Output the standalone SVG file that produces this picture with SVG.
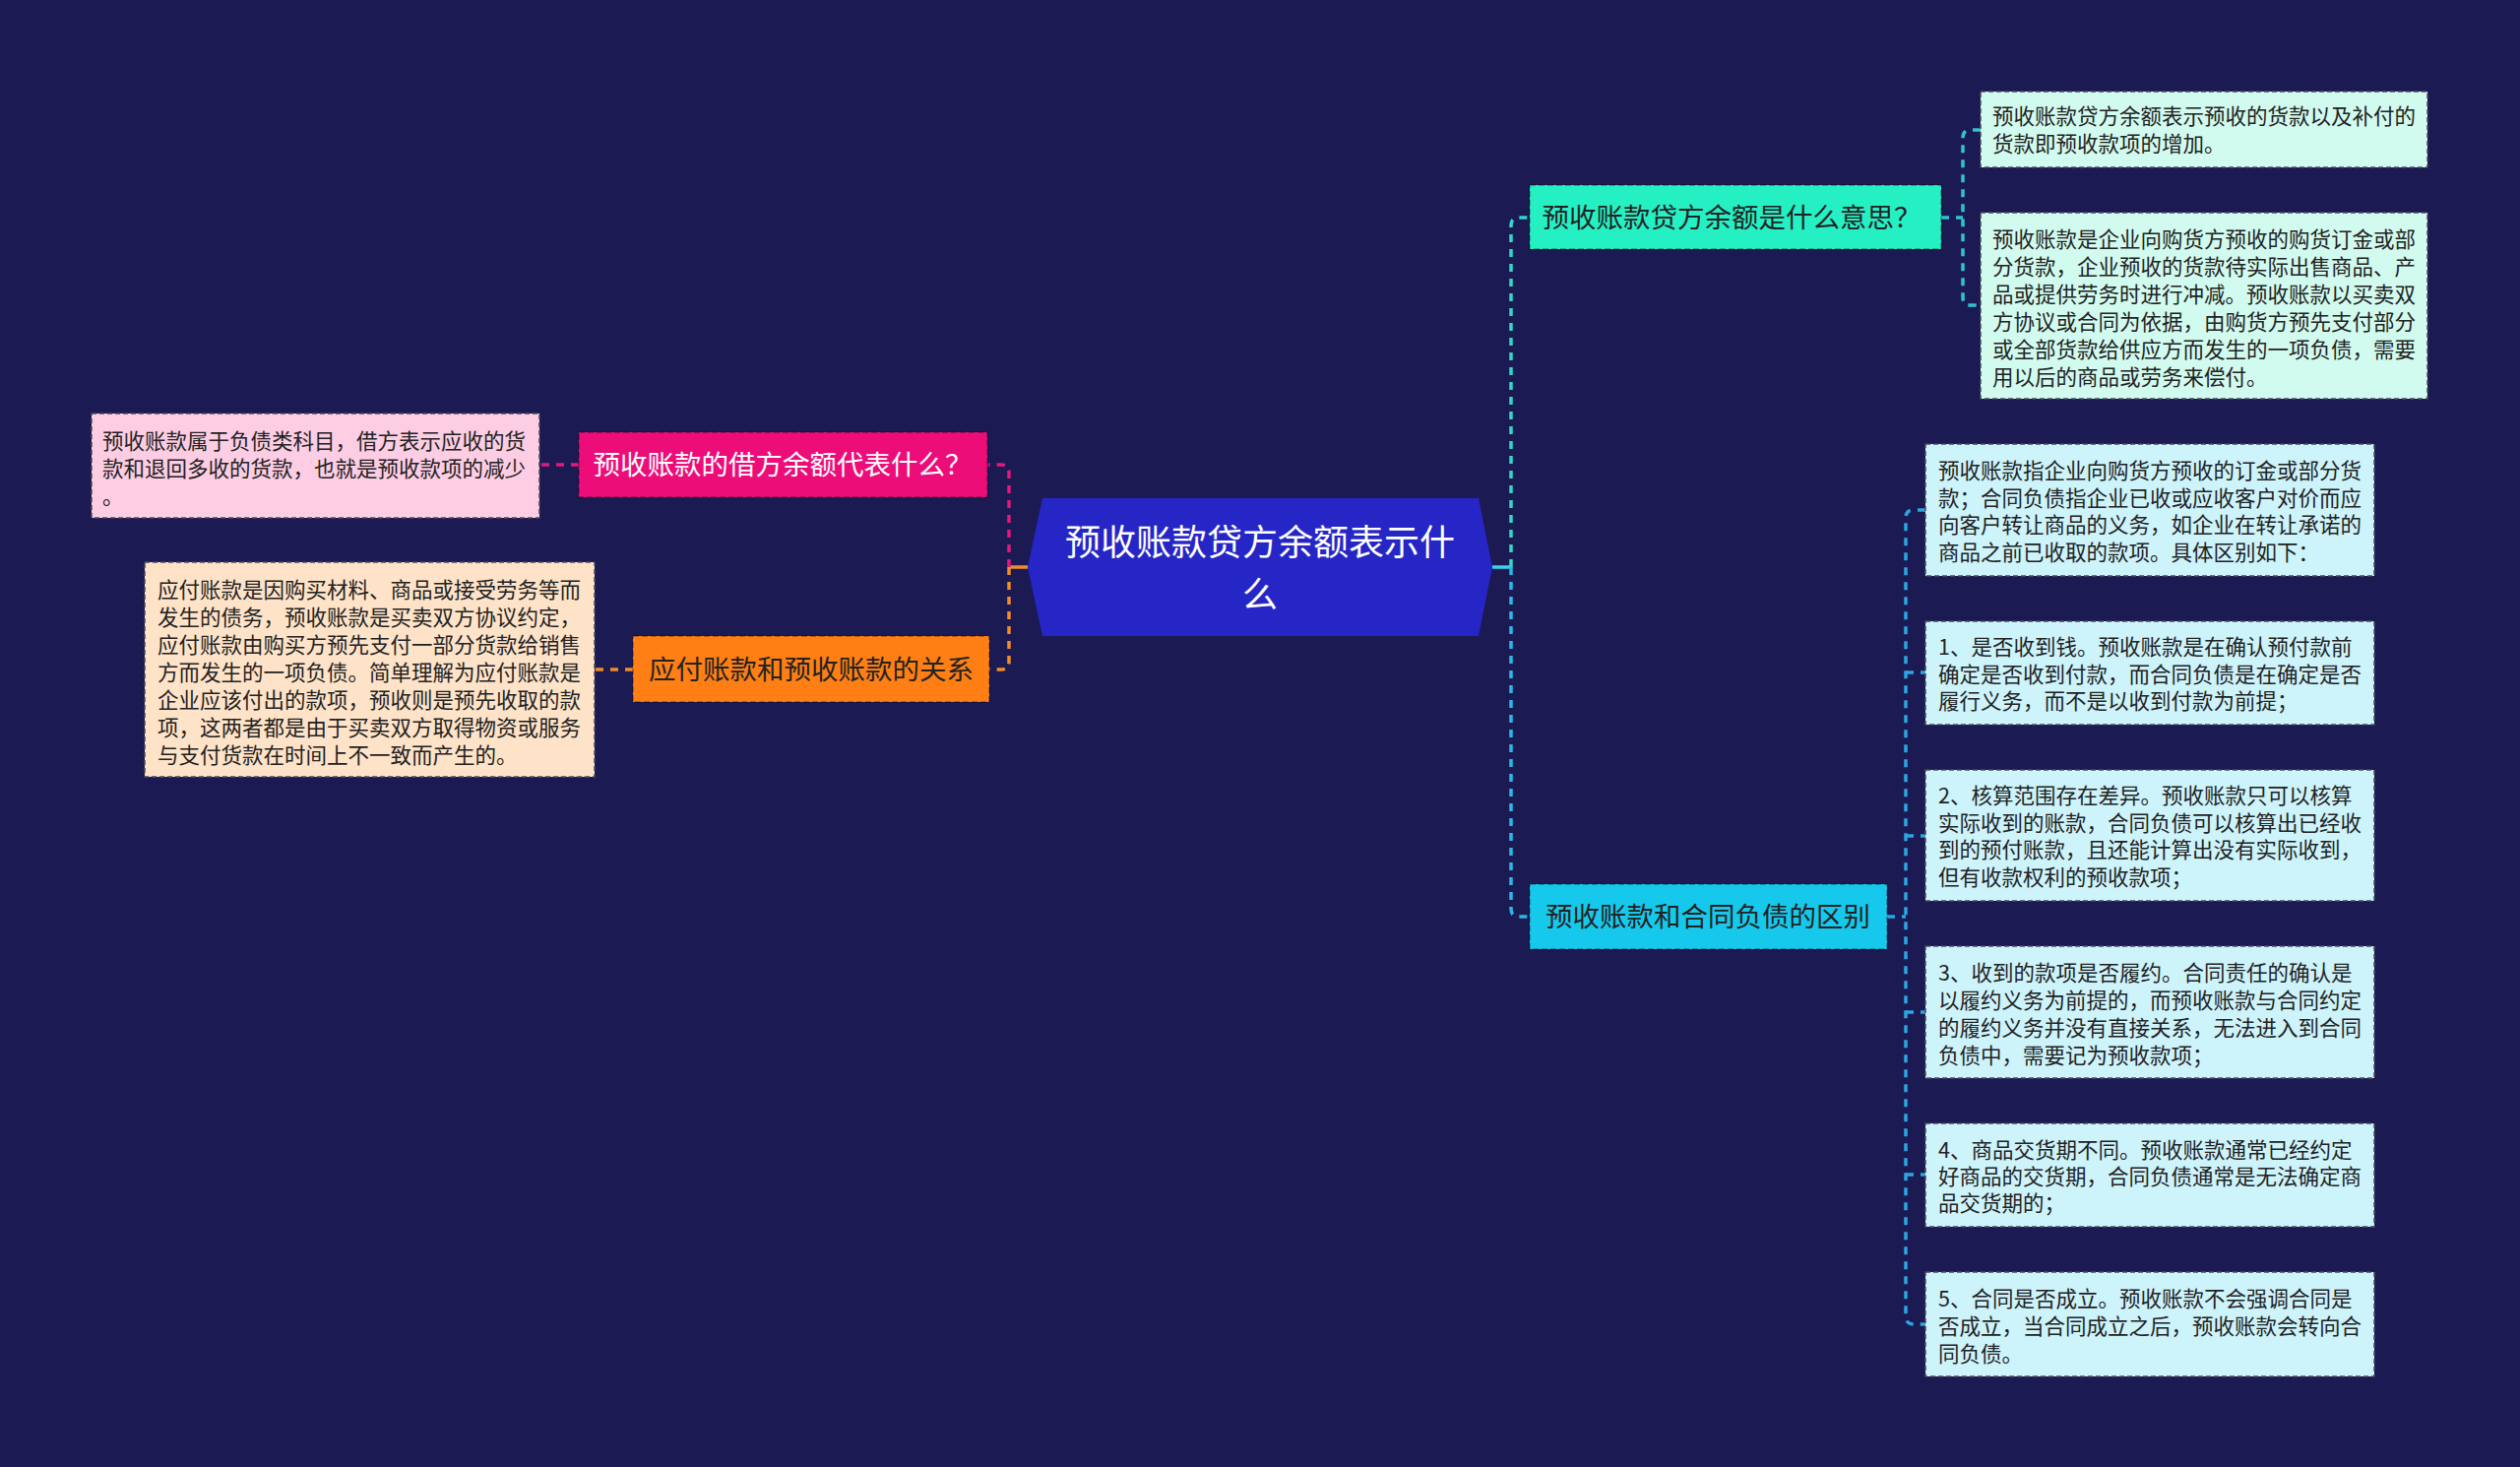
<svg xmlns="http://www.w3.org/2000/svg" width="2560" height="1490" viewBox="0 0 2560 1490">
<style>
text{font-family:"Noto Sans CJK SC","Noto Sans",sans-serif;}
.leaf{font-size:21.5px;fill:#222;}
.lbl{font-size:27.5px;fill:#222;text-anchor:middle;}
.lb{stroke:#4b4b5c;stroke-width:1.5;stroke-dasharray:5 3;}
.nb{stroke:rgba(0,0,0,0.35);stroke-width:1.5;stroke-dasharray:6 3;}
.c{fill:none;stroke-width:3.5;stroke-dasharray:8 7;}
.s{fill:none;stroke-width:3.5;}
</style>
<rect width="2560" height="1490" fill="#1b1a53"/>
<g id="connectors">
<path class="s" d="M1025,576 H1044" stroke="#f08c2a"/>
<path class="c" d="M1025,576 V480 Q1025,472 1017,472 H1004" stroke="#e0197d"/>
<path class="c" d="M1025,576 V672 Q1025,680 1017,680 H1005" stroke="#f08c2a"/>
<path class="c" d="M588,472 H548" stroke="#e0197d"/>
<path class="c" d="M643,680 H604" stroke="#f08c2a"/>
<path class="s" d="M1516,576 H1535" stroke="#3cd0ee"/>
<path class="c" d="M1535,576 V229 Q1535,221 1543,221 H1554" stroke="#2fd8c6"/>
<path class="c" d="M1535,576 V923 Q1535,931 1543,931 H1554" stroke="#27b8e6"/>
<path class="c" d="M1972,221 H1994" stroke="#2fc4d0"/>
<path class="c" d="M2012,132 H2002 Q1994,132 1994,140 V302 Q1994,310 2002,310 H2012" stroke="#2fc4d0"/>
<path class="c" d="M1917,931 H1936" stroke="#2aa6e2"/>
<path class="c" d="M1956,518 H1944 Q1936,518 1936,526 V1337 Q1936,1345 1944,1345 H1956" stroke="#2aa6e2"/>
<path class="c" d="M1936,683 H1956 M1936,849 H1956 M1936,1028 H1956 M1936,1193 H1956" stroke="#2aa6e2"/>
</g>
<g id="center">
<polygon points="1059,506 1502,506 1516,576 1502,646 1059,646 1044,576" fill="#2626c6"/>
<text x="1280" y="564" font-size="36" fill="#fff" text-anchor="middle">预收账款贷方余额表示什</text>
<text x="1280" y="617" font-size="36" fill="#fff" text-anchor="middle">么</text>
</g>
<g id="n-pink">
<rect class="nb" x="588" y="439" width="415" height="66" fill="#ec0d79"/>
<text class="lbl" x="795" y="482" style="fill:#fff">预收账款的借方余额代表什么？</text>
</g>
<g id="leaf-pink">
<rect class="lb" x="93" y="420" width="455" height="106" fill="#fdcde3"/>
<text class="leaf" x="104" y="456">预收账款属于负债类科目，借方表示应收的货</text>
<text class="leaf" x="104" y="484">款和退回多收的货款，也就是预收款项的减少</text>
<text class="leaf" x="104" y="512">。</text>
</g>
<g id="n-orange">
<rect class="nb" x="643" y="646" width="362" height="67" fill="#ff7f14"/>
<text class="lbl" x="824" y="690">应付账款和预收账款的关系</text>
</g>
<g id="leaf-orange">
<rect class="lb" x="147" y="571" width="457" height="218" fill="#fee3c8"/>
<text class="leaf" x="160" y="607">应付账款是因购买材料、商品或接受劳务等而</text>
<text class="leaf" x="160" y="635">发生的债务，预收账款是买卖双方协议约定，</text>
<text class="leaf" x="160" y="663">应付账款由购买方预先支付一部分货款给销售</text>
<text class="leaf" x="160" y="691">方而发生的一项负债。简单理解为应付账款是</text>
<text class="leaf" x="160" y="719">企业应该付出的款项，预收则是预先收取的款</text>
<text class="leaf" x="160" y="747">项，这两者都是由于买卖双方取得物资或服务</text>
<text class="leaf" x="160" y="775">与支付货款在时间上不一致而产生的。</text>
</g>
<g id="n-teal">
<rect class="nb" x="1554" y="188" width="418" height="65" fill="#25f0c4"/>
<text class="lbl" x="1759" y="231">预收账款贷方余额是什么意思？</text>
</g>
<g id="leaf-teal-1">
<rect class="lb" x="2012" y="93" width="454" height="77" fill="#d2fbef"/>
<text class="leaf" x="2024" y="126">预收账款贷方余额表示预收的货款以及补付的</text>
<text class="leaf" x="2024" y="154">货款即预收款项的增加。</text>
</g>
<g id="leaf-teal-2">
<rect class="lb" x="2012" y="216" width="454" height="189" fill="#d2fbef"/>
<text class="leaf" x="2024" y="251">预收账款是企业向购货方预收的购货订金或部</text>
<text class="leaf" x="2024" y="279">分货款，企业预收的货款待实际出售商品、产</text>
<text class="leaf" x="2024" y="307">品或提供劳务时进行冲减。预收账款以买卖双</text>
<text class="leaf" x="2024" y="335">方协议或合同为依据，由购货方预先支付部分</text>
<text class="leaf" x="2024" y="363">或全部货款给供应方而发生的一项负债，需要</text>
<text class="leaf" x="2024" y="391">用以后的商品或劳务来偿付。</text>
</g>
<g id="n-cyan">
<rect class="nb" x="1554" y="898" width="363" height="66" fill="#16c9ec"/>
<text class="lbl" x="1735" y="941">预收账款和合同负债的区别</text>
</g>
<g id="leaf-cyan-0">
<rect class="lb" x="1956" y="451" width="456" height="134" fill="#cdf3fb"/>
<text class="leaf" x="1969" y="486">预收账款指企业向购货方预收的订金或部分货</text>
<text class="leaf" x="1969" y="514">款；合同负债指企业已收或应收客户对价而应</text>
<text class="leaf" x="1969" y="541">向客户转让商品的义务，如企业在转让承诺的</text>
<text class="leaf" x="1969" y="569">商品之前已收取的款项。具体区别如下：</text>
</g>
<g id="leaf-cyan-1">
<rect class="lb" x="1956" y="631" width="456" height="105" fill="#cdf3fb"/>
<text class="leaf" x="1969" y="665">1、是否收到钱。预收账款是在确认预付款前</text>
<text class="leaf" x="1969" y="693">确定是否收到付款，而合同负债是在确定是否</text>
<text class="leaf" x="1969" y="720">履行义务，而不是以收到付款为前提；</text>
</g>
<g id="leaf-cyan-2">
<rect class="lb" x="1956" y="782" width="456" height="133" fill="#cdf3fb"/>
<text class="leaf" x="1969" y="816">2、核算范围存在差异。预收账款只可以核算</text>
<text class="leaf" x="1969" y="844">实际收到的账款，合同负债可以核算出已经收</text>
<text class="leaf" x="1969" y="871">到的预付账款，且还能计算出没有实际收到，</text>
<text class="leaf" x="1969" y="899">但有收款权利的预收款项；</text>
</g>
<g id="leaf-cyan-3">
<rect class="lb" x="1956" y="961" width="456" height="134" fill="#cdf3fb"/>
<text class="leaf" x="1969" y="996">3、收到的款项是否履约。合同责任的确认是</text>
<text class="leaf" x="1969" y="1024">以履约义务为前提的，而预收账款与合同约定</text>
<text class="leaf" x="1969" y="1052">的履约义务并没有直接关系，无法进入到合同</text>
<text class="leaf" x="1969" y="1080">负债中，需要记为预收款项；</text>
</g>
<g id="leaf-cyan-4">
<rect class="lb" x="1956" y="1141" width="456" height="105" fill="#cdf3fb"/>
<text class="leaf" x="1969" y="1176">4、商品交货期不同。预收账款通常已经约定</text>
<text class="leaf" x="1969" y="1203">好商品的交货期，合同负债通常是无法确定商</text>
<text class="leaf" x="1969" y="1230">品交货期的；</text>
</g>
<g id="leaf-cyan-5">
<rect class="lb" x="1956" y="1292" width="456" height="106" fill="#cdf3fb"/>
<text class="leaf" x="1969" y="1327">5、合同是否成立。预收账款不会强调合同是</text>
<text class="leaf" x="1969" y="1355">否成立，当合同成立之后，预收账款会转向合</text>
<text class="leaf" x="1969" y="1383">同负债。</text>
</g>
</svg>
